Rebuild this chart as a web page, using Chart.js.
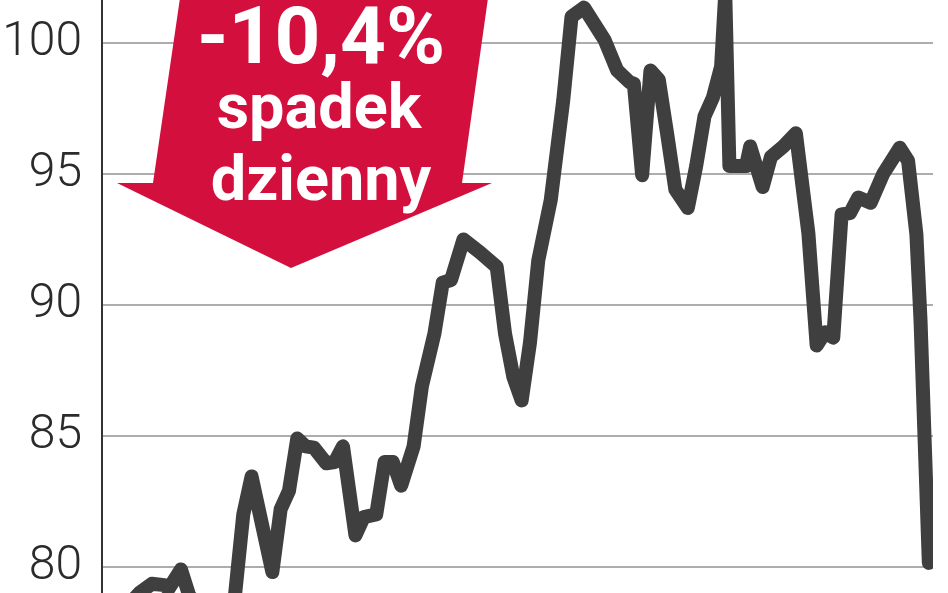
<!DOCTYPE html>
<html lang="pl">
<head>
<meta charset="utf-8">
<title>Spadek dzienny</title>
<script src="https://cdn.jsdelivr.net/npm/chart.js@4/dist/chart.umd.min.js"></script>
<style>
    html, body { margin: 0; padding: 0; background: #fff; overflow: hidden; }
    #wrap { position: relative; width: 948px; height: 593px; }
</style>
</head>
<body>
<div id="wrap"><canvas id="priceChart"></canvas></div>
<script>
/**
 * ==========================================
 * PRICE CHART WITH DAILY DROP CALLOUT
 * ==========================================
 */

// session number (x) and closing level (y)
const sessions = [2, 9, 12, 15, 16, 19, 21, 25, 29, 32,
    34, 36, 41, 43, 45, 47, 49, 51, 54, 56,
    58, 61, 63, 66, 68, 70, 72, 75, 77, 80,
    82, 84, 87, 91, 95, 97, 99, 101, 103, 105,
    108, 111, 113, 116, 121, 124, 127, 128, 130, 132,
    134, 136, 138, 141, 143, 145, 147, 149, 150, 151,
    155, 156, 159, 161, 164, 167, 170, 172, 174, 176,
    178, 180, 182, 185, 188, 192, 194, 196, 197, 199];

const prices = [77.8, 79.0, 79.35, 79.3, 79.15, 79.9, 78.9, 78.2, 78.4, 78.9,
    82.0, 83.45, 79.8, 82.2, 82.9, 84.9, 84.6, 84.55, 83.95, 84.0,
    84.6, 81.2, 81.9, 82.0, 84.0, 84.0, 83.1, 84.6, 86.9, 88.9,
    90.85, 90.95, 92.5, 92.0, 91.45, 88.9, 87.25, 86.35, 88.55, 91.7,
    94.0, 97.8, 101.0, 101.35, 100.1, 98.95, 98.5, 98.45, 94.95, 98.95,
    98.6, 96.55, 94.4, 93.7, 95.3, 97.2, 97.9, 99.1, 101.9, 95.3,
    95.3, 96.05, 94.5, 95.65, 96.05, 96.55, 92.75, 88.45, 88.95, 88.75,
    93.45, 93.5, 94.1, 93.9, 95.0, 96.0, 95.5, 92.7, 89.4, 80.15];

const yTicks = [80, 85, 90, 95, 100];
const calloutLines = ['-10,4%', 'spadek', 'dzienny'];

// ==========================================
// CALLOUT PLUGIN (red arrow pointing down)
// ==========================================

const dropArrow = {
    id: 'dropArrow',
    beforeDatasetsDraw(chart) {
        const ctx = chart.ctx;
        const top = chart.chartArea.top;
        ctx.save();
        ctx.fillStyle = '#d3103d';
        ctx.beginPath();
        ctx.moveTo(180, top - 2);
        ctx.lineTo(488, top - 2);
        ctx.lineTo(462, top + 183);
        ctx.lineTo(492, top + 183);
        ctx.lineTo(291, top + 268);
        ctx.lineTo(117, top + 183);
        ctx.lineTo(153, top + 183);
        ctx.closePath();
        ctx.fill();

        ctx.fillStyle = '#ffffff';
        ctx.textAlign = 'center';
        ctx.textBaseline = 'alphabetic';
        ctx.font = 'bold 80px Roboto';
        ctx.fillText(calloutLines[0], 321, top + 63);
        ctx.font = 'bold 63px Roboto';
        ctx.fillText(calloutLines[1], 319, top + 128);
        ctx.fillText(calloutLines[2], 321, top + 200);
        ctx.restore();
    }
};

// ==========================================
// CHART
// ==========================================

const ctx = document.getElementById('priceChart').getContext('2d');

new Chart(ctx, {
    type: 'line',
    data: {
        datasets: [{
            data: sessions.map((s, i) => ({ x: s, y: prices[i] })),
            borderColor: '#3f3f3f',
            borderWidth: 14,
            borderJoinStyle: 'round',
            borderCapStyle: 'round',
            pointRadius: 0,
            tension: 0
        }]
    },
    options: {
        responsive: true,
        maintainAspectRatio: false,
        animation: false,
        layout: { padding: { left: 0, right: 15, top: 0, bottom: 0 } },
        plugins: { legend: { display: false }, tooltip: { enabled: false } },
        scales: {
            x: { type: 'linear', min: 0, max: 200, display: false },
            y: {
                min: 79.0,
                max: 101.64,
                afterFit: (scale) => {
                    scale.width = 102;
                    scale.paddingTop = 0;
                    scale.paddingBottom = 0;
                },
                afterBuildTicks: (scale) => { scale.ticks = yTicks.map(v => ({ value: v })); },
                border: { display: true, color: '#333333', width: 2 },
                grid: { color: '#adadad', lineWidth: 2, drawTicks: false },
                ticks: {
                    padding: 20,
                    color: '#2b2b2b',
                    font: { family: 'Roboto', weight: '300', size: 48 }
                }
            }
        }
    },
    plugins: [dropArrow]
});
</script>
</body>
</html>
